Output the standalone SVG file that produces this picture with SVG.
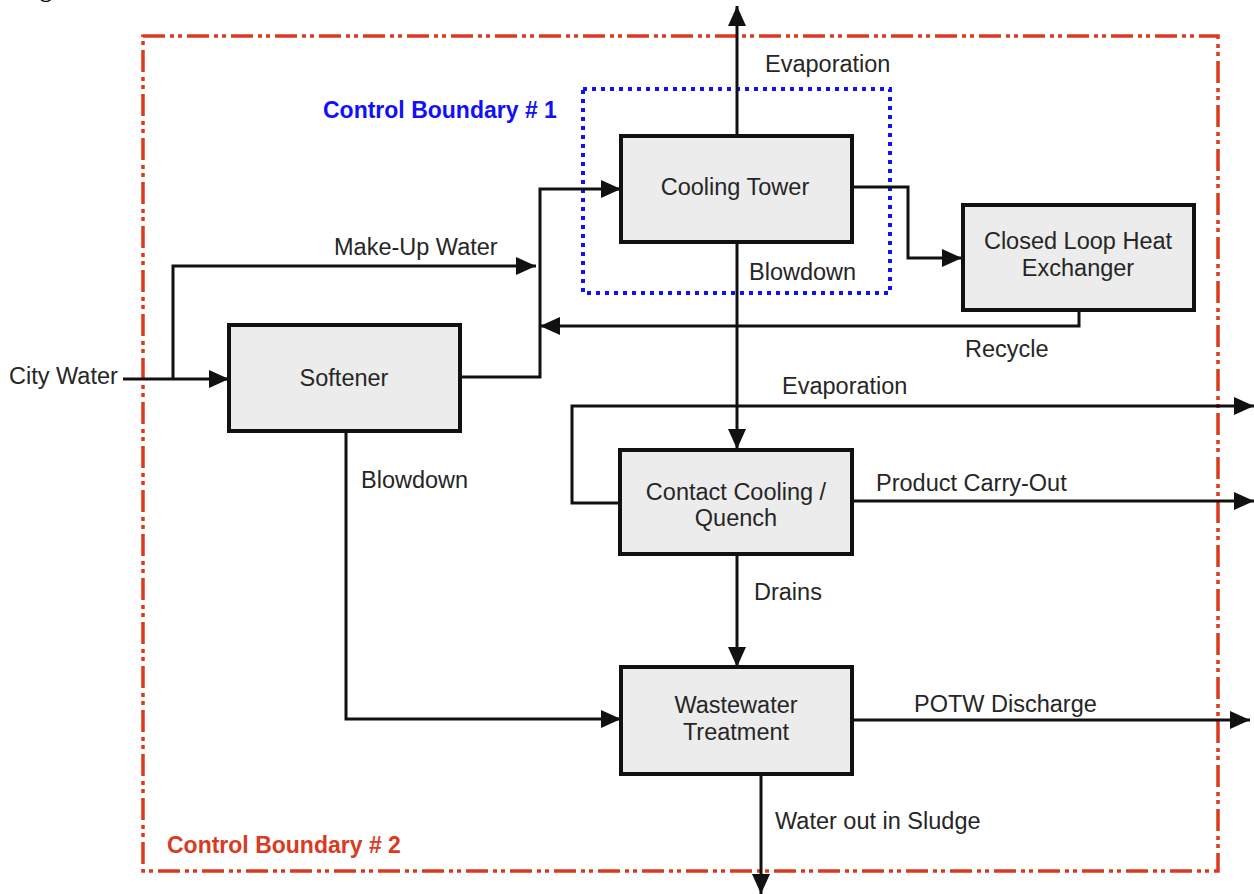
<svg xmlns="http://www.w3.org/2000/svg" width="1254" height="894" viewBox="0 0 1254 894">
<style>
.box{fill:#ececec;stroke:#111;stroke-width:4}
.t{font-family:"Liberation Sans",Arial,sans-serif;font-size:23.5px;fill:#262626}
.c{text-anchor:middle}
.b{font-family:"Liberation Sans",Arial,sans-serif;font-size:23px;font-weight:bold}
.ln{fill:none;stroke:#111;stroke-width:3}
.arr{marker-end:url(#ah)}
</style>
<defs>
<marker id="ah" markerUnits="userSpaceOnUse" markerWidth="20" markerHeight="20" refX="20" refY="9" orient="auto">
<path d="M0,0 L20,9 L0,18 z" fill="#111"/>
</marker>
</defs>
<rect width="1254" height="894" fill="#fff"/>
<text x="40" y="-3" style="font-family:'Liberation Serif',serif;font-size:24px;font-weight:bold;fill:#111">g</text>

<g id="boundary2">
<rect x="143" y="36" width="1075" height="835" fill="none" stroke="#db3a1f" stroke-width="3.5" stroke-dasharray="22 5 4 4 4 5"/>
<text class="b" x="167" y="853" fill="#db3a1f">Control Boundary # 2</text>
</g>
<g id="boundary1">
<rect x="583" y="89" width="307" height="204" fill="none" stroke="#1010ff" stroke-width="4" stroke-dasharray="4 5"/>
<text class="b" x="323" y="118" fill="#1010ff">Control Boundary # 1</text>
</g>

<g id="connectors">
<line class="ln arr" x1="737" y1="136" x2="737" y2="6"/>
<line class="ln arr" x1="123" y1="379" x2="229" y2="379"/>
<polyline class="ln arr" points="173,379 173,266 536,266"/>
<polyline class="ln arr" points="460,377 540,377 540,189 621,189"/>
<polyline class="ln arr" points="1079,310 1079,326 540,326"/>
<polyline class="ln arr" points="852,187 908,187 908,258 962,258"/>
<line class="ln arr" x1="737" y1="242" x2="737" y2="449"/>
<polyline class="ln arr" points="619,503 572,503 572,406 1254,406"/>
<line class="ln arr" x1="852" y1="501" x2="1254" y2="501"/>
<line class="ln arr" x1="737" y1="554" x2="737" y2="667"/>
<polyline class="ln arr" points="346,431 346,719 621,719"/>
<line class="ln arr" x1="852" y1="720" x2="1250" y2="720"/>
<line class="ln arr" x1="761" y1="774" x2="761" y2="894"/>
<text class="t" x="765" y="72">Evaporation</text>
<text class="t" x="9" y="384">City Water</text>
<text class="t" x="334" y="255">Make-Up Water</text>
<text class="t" x="749" y="280">Blowdown</text>
<text class="t" x="965" y="357">Recycle</text>
<text class="t" x="782" y="394">Evaporation</text>
<text class="t" x="876" y="491">Product Carry-Out</text>
<text class="t" x="361" y="488">Blowdown</text>
<text class="t" x="754" y="600">Drains</text>
<text class="t" x="914" y="712">POTW Discharge</text>
<text class="t" x="775" y="829">Water out in Sludge</text>
</g>

<g id="cooling-tower">
<rect class="box" x="621" y="136" width="231" height="106"/>
<text class="t c" x="735" y="195">Cooling Tower</text>
</g>
<g id="closed-loop">
<rect class="box" x="963" y="205" width="231" height="105"/>
<text class="t c" x="1078" y="249">Closed Loop Heat</text>
<text class="t c" x="1078" y="276">Exchanger</text>
</g>
<g id="softener">
<rect class="box" x="229" y="325" width="231" height="106"/>
<text class="t c" x="344" y="386">Softener</text>
</g>
<g id="contact-cooling">
<rect class="box" x="620" y="450" width="232" height="104"/>
<text class="t c" x="736" y="500">Contact Cooling /</text>
<text class="t c" x="736" y="526">Quench</text>
</g>
<g id="wastewater">
<rect class="box" x="621" y="667" width="231" height="107"/>
<text class="t c" x="736" y="713">Wastewater</text>
<text class="t c" x="736" y="740">Treatment</text>
</g>
</svg>
